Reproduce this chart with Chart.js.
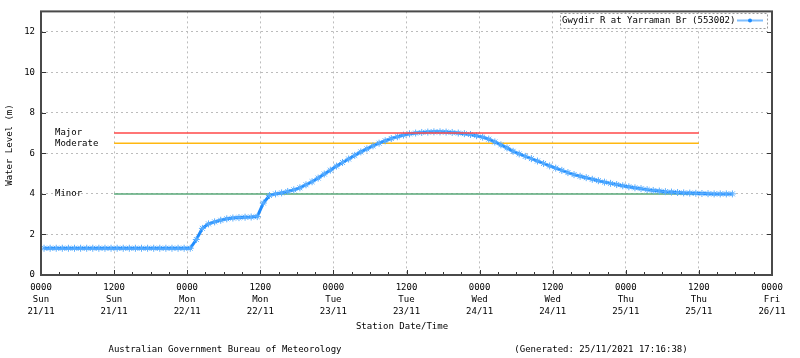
<!DOCTYPE html>
<html>
<head>
<meta charset="utf-8">
<script src="https://cdn.jsdelivr.net/npm/chart.js@4/dist/chart.umd.min.js"></script>
<style>
  html, body { margin: 0; padding: 0; background: #fff; }
</style>
</head>
<body>
<canvas id="chart" width="800" height="358"></canvas>
<script>
// station series, hourly readings from 00:30 Sun 21/11
const seriesName = "Gwydir R at Yarraman Br (553002)";
const firstHour = 0.5;
const levels = [
  1.32, 1.32, 1.32, 1.32, 1.32, 1.32, 1.32, 1.32, 1.32, 1.32,
  1.32, 1.32, 1.32, 1.32, 1.32, 1.32, 1.32, 1.32, 1.32, 1.32,
  1.32, 1.32, 1.32, 1.32, 1.32, 1.75, 2.30, 2.52, 2.62, 2.70,
  2.77, 2.81, 2.83, 2.85, 2.86, 2.88, 3.55, 3.92, 4.00, 4.05,
  4.12, 4.20, 4.30, 4.45, 4.60, 4.78, 4.98, 5.17, 5.37, 5.55,
  5.72, 5.90, 6.07, 6.22, 6.37, 6.50, 6.62, 6.73, 6.82, 6.90,
  6.96, 7.00, 7.03, 7.05, 7.06, 7.06, 7.05, 7.03, 7.00, 6.97,
  6.93, 6.87, 6.80, 6.70, 6.56, 6.42, 6.27, 6.10, 5.97, 5.85,
  5.74, 5.62, 5.50, 5.38, 5.27, 5.16, 5.05, 4.95, 4.87, 4.80,
  4.72, 4.65, 4.58, 4.52, 4.46, 4.40, 4.35, 4.30, 4.26, 4.21,
  4.17, 4.14, 4.11, 4.09, 4.07, 4.05, 4.04, 4.03, 4.02, 4.01,
  4.00, 4.00, 4.00, 4.00
];

// flood classes
const floodNames = ["Major", "Moderate", "Minor"];
const floodLevels = [7.0, 6.5, 4.0];
const floodColors = ["#ff4848", "#ffb810", "#58a878"];
const floodFrom = 12;
const floodTo = 108;

// x tick labels (every 12 hours)
const tickTimes = ["0000", "1200", "0000", "1200", "0000", "1200", "0000", "1200", "0000", "1200", "0000"];
const tickDays = ["Sun", "Sun", "Mon", "Mon", "Tue", "Tue", "Wed", "Wed", "Thu", "Thu", "Fri"];
const tickDates = ["21/11", "21/11", "22/11", "22/11", "23/11", "23/11", "24/11", "24/11", "25/11", "25/11", "26/11"];

const FONT = '"DejaVu Sans Mono", "Liberation Mono", monospace';
const BLUE = "#1e8cff";
const GRID = "#bcbcbc";

const points = levels.map((v, i) => ({ x: firstHour + i, y: v }));

const datasets = [];
floodNames.forEach((name, k) => {
  datasets.push({
    label: name,
    data: [{ x: floodFrom, y: floodLevels[k] }, { x: floodTo, y: floodLevels[k] }],
    borderColor: floodColors[k],
    borderWidth: 1.5,
    pointRadius: 0,
    order: k === 0 ? 0 : 2
  });
});
datasets.push({
  label: seriesName,
  data: points,
  borderColor: BLUE,
  borderWidth: 3,
  pointStyle: "star",
  pointRadius: 3.5,
  pointBorderWidth: 1,
  pointBorderColor: "#5aaeff",
  pointBackgroundColor: "#5aaeff",
  order: 1
});

const decor = {
  id: "decor",
  afterDraw(chart) {
    const ctx = chart.ctx;
    const a = chart.chartArea;
    const xs = chart.scales.x;
    const ys = chart.scales.y;
    ctx.save();

    // inward tick marks
    ctx.strokeStyle = "#333";
    ctx.lineWidth = 1;
    ctx.beginPath();
    for (let h = 0; h <= 120; h += 3) {
      const px = Math.round(xs.getPixelForValue(h)) + 0.5;
      const len = h % 12 === 0 ? 5 : 3;
      ctx.moveTo(px, a.bottom);
      ctx.lineTo(px, a.bottom - len);
    }
    for (let v = 2; v <= 12; v += 2) {
      const py = Math.round(ys.getPixelForValue(v)) + 0.5;
      ctx.moveTo(a.left, py);
      ctx.lineTo(a.left + 5, py);
      ctx.moveTo(a.right, py);
      ctx.lineTo(a.right - 5, py);
    }
    ctx.stroke();

    // plot frame
    ctx.strokeStyle = "#4a4a4a";
    ctx.lineWidth = 2;
    ctx.strokeRect(a.left, a.top, a.right - a.left, a.bottom - a.top);

    // flood class labels
    ctx.fillStyle = "#000";
    ctx.font = "9px " + FONT;
    ctx.textAlign = "left";
    ctx.textBaseline = "middle";
    floodNames.forEach((name, k) => {
      ctx.fillText(name, a.left + 14, ys.getPixelForValue(floodLevels[k]));
    });

    // titles and footer
    ctx.textAlign = "center";
    ctx.fillText("Station Date/Time", 402, 327);
    ctx.fillText("Australian Government Bureau of Meteorology", 225, 350);
    ctx.fillText("(Generated: 25/11/2021 17:16:38)", 601, 350);
    ctx.save();
    ctx.translate(10, 145);
    ctx.rotate(-Math.PI / 2);
    ctx.fillText("Water Level (m)", 0, 0);
    ctx.restore();

    // legend box
    ctx.fillStyle = "#fff";
    ctx.fillRect(560, 13, 207, 15);
    ctx.strokeStyle = "#999";
    ctx.lineWidth = 1;
    ctx.setLineDash([2, 2]);
    ctx.strokeRect(560.5, 13.5, 207, 15);
    ctx.setLineDash([]);
    ctx.fillStyle = "#000";
    ctx.textAlign = "left";
    ctx.fillText(seriesName, 562, 21);
    ctx.strokeStyle = "#7fbfff";
    ctx.lineWidth = 2;
    ctx.beginPath();
    ctx.moveTo(737, 20.5);
    ctx.lineTo(763, 20.5);
    ctx.stroke();
    ctx.fillStyle = BLUE;
    ctx.beginPath();
    ctx.arc(750, 20.5, 2, 0, Math.PI * 2);
    ctx.fill();

    ctx.restore();
  }
};

new Chart(document.getElementById("chart"), {
  type: "line",
  data: { datasets: datasets },
  options: {
    responsive: false,
    animation: false,
    devicePixelRatio: 1,
    layout: { padding: { top: 11, right: 28, left: 0, bottom: 0 } },
    plugins: { legend: { display: false }, tooltip: { enabled: false } },
    scales: {
      x: {
        type: "linear",
        min: 0,
        max: 120,
        afterFit: s => { s.height = 83; },
        border: { display: false, dash: [2, 3] },
        grid: {
          drawTicks: false,
          color: c => (c.tick && (c.tick.value === 0 || c.tick.value === 120)) ? "rgba(0,0,0,0)" : GRID,
          lineWidth: 1
        },
        ticks: {
          stepSize: 12,
          autoSkip: false,
          maxRotation: 0,
          padding: 6,
          color: "#000",
          font: { family: FONT, size: 9, lineHeight: 1.38 },
          callback: v => {
            const i = Math.round(v / 12);
            return [tickTimes[i], tickDays[i], tickDates[i]];
          }
        }
      },
      y: {
        min: 0,
        max: 13,
        afterFit: s => { s.width = 41; },
        border: { display: false, dash: [2, 3] },
        grid: {
          drawTicks: false,
          color: c => (c.tick && c.tick.value === 0) ? "rgba(0,0,0,0)" : GRID,
          lineWidth: 1
        },
        ticks: {
          stepSize: 2,
          includeBounds: false,
          padding: 6,
          color: "#000",
          font: { family: FONT, size: 9 }
        }
      }
    }
  },
  plugins: [decor]
});
</script>
</body>
</html>
